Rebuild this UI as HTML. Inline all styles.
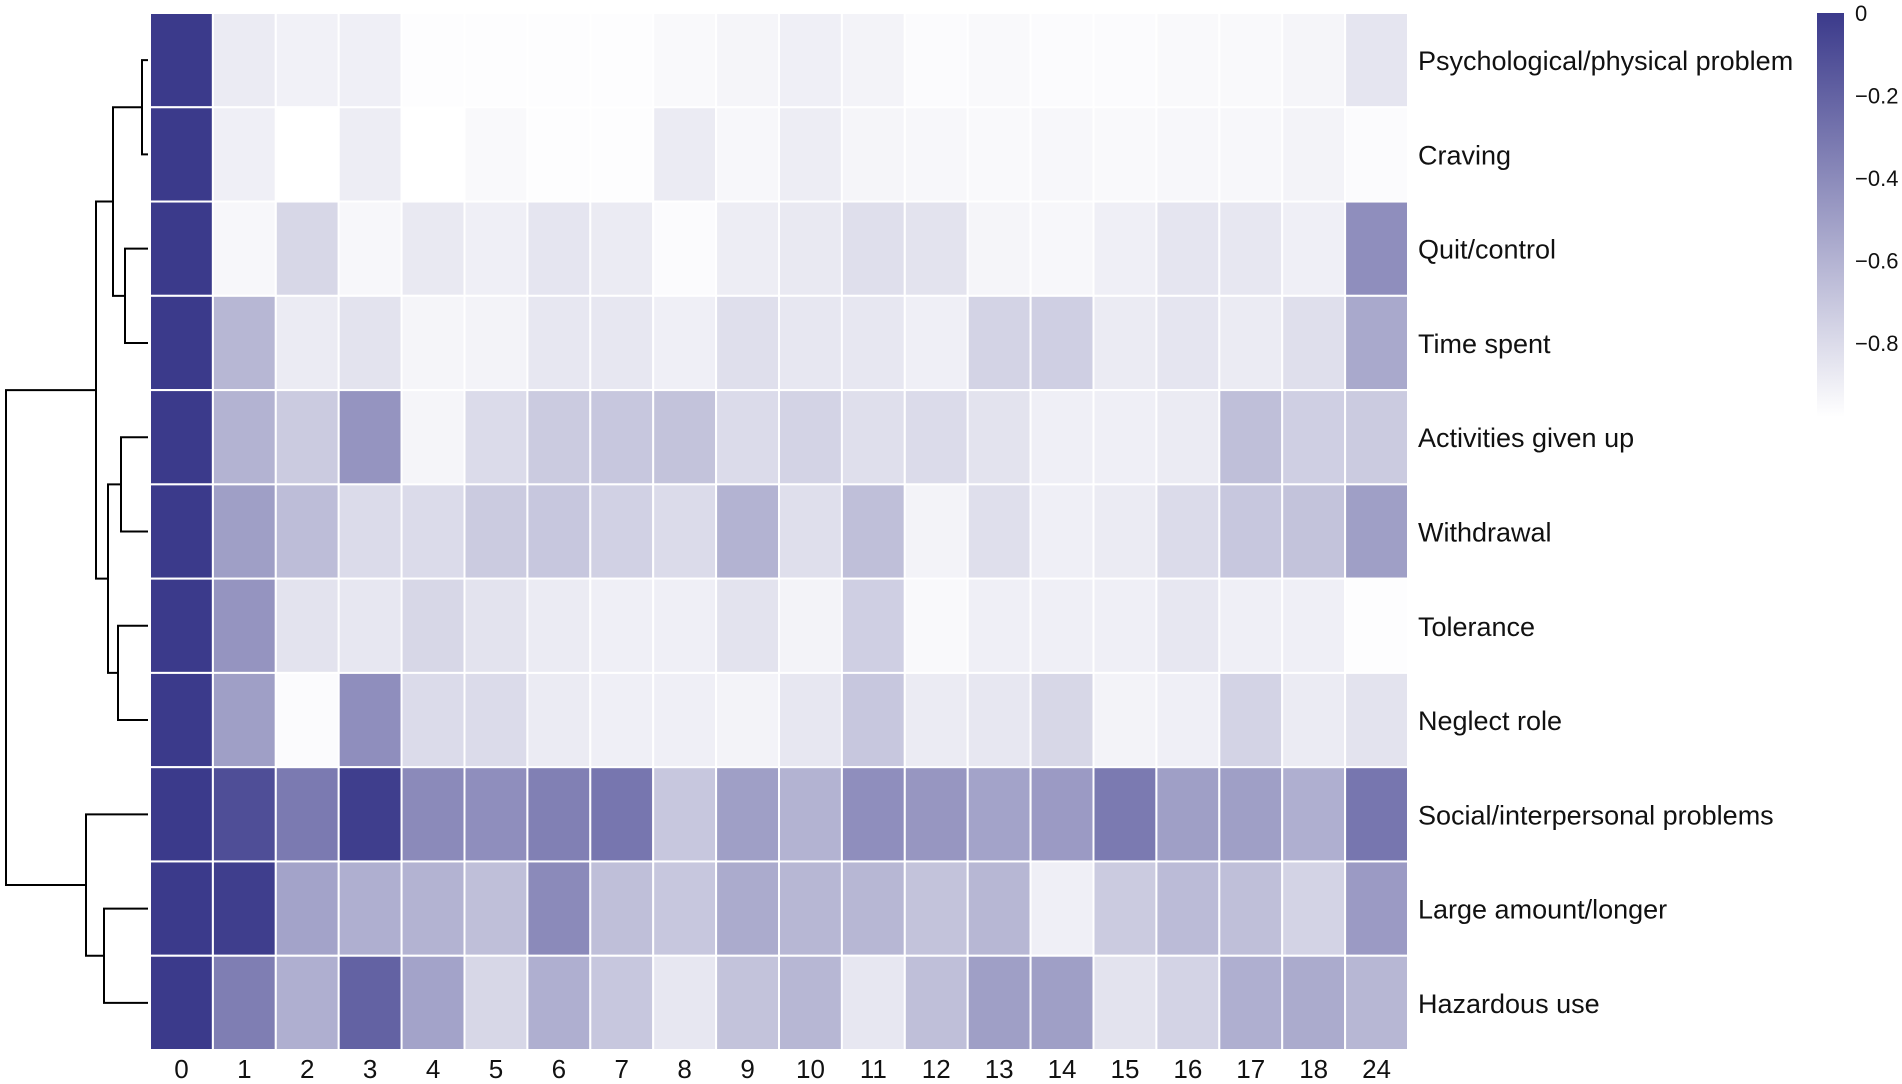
<!DOCTYPE html>
<html><head><meta charset="utf-8"><style>
html,body{margin:0;padding:0;background:#fff;width:1902px;height:1084px;overflow:hidden}
svg{display:block;font-family:"Liberation Sans",Arial,sans-serif}
</style></head><body>
<svg id="chart" width="1902" height="1084" viewBox="0 0 1902 1084" xmlns="http://www.w3.org/2000/svg">
<defs><linearGradient id="cbg" x1="0" y1="0" x2="0" y2="1"><stop offset="0" stop-color="#3b3a8b"/><stop offset="1" stop-color="#ffffff"/></linearGradient></defs>
<g id="cells"></g>
<g id="dendro"></g>
<g id="ylabels"></g>
<g id="xlabels"></g>
<g id="cbar"></g>
</svg>
<script>
const colLabels=["0","1","2","3","4","5","6","7","8","9","10","11","12","13","14","15","16","17","18","24"];
const rowLabels=["Psychological/physical problem","Craving","Quit/control","Time spent","Activities given up","Withdrawal","Tolerance","Neglect role","Social/interpersonal problems","Large amount/longer","Hazardous use"];
const rowPsych=[0,-0.88,-0.91,-0.9,-0.97,-0.97,-0.97,-0.97,-0.95,-0.93,-0.9,-0.92,-0.96,-0.95,-0.96,-0.96,-0.95,-0.95,-0.93,-0.85];
const rowCraving=[0,-0.9,-0.99,-0.89,-0.99,-0.95,-0.97,-0.97,-0.88,-0.94,-0.89,-0.93,-0.94,-0.95,-0.94,-0.95,-0.94,-0.94,-0.92,-0.96];
const rowQuit=[0,-0.94,-0.78,-0.94,-0.87,-0.9,-0.85,-0.88,-0.96,-0.89,-0.87,-0.82,-0.84,-0.93,-0.94,-0.9,-0.85,-0.86,-0.9,-0.42];
const rowTime=[0,-0.62,-0.88,-0.84,-0.93,-0.92,-0.86,-0.86,-0.9,-0.82,-0.86,-0.86,-0.9,-0.76,-0.74,-0.88,-0.85,-0.88,-0.82,-0.55];
const rowActivities=[0,-0.6,-0.72,-0.45,-0.93,-0.8,-0.72,-0.7,-0.68,-0.8,-0.76,-0.82,-0.8,-0.84,-0.9,-0.9,-0.88,-0.66,-0.74,-0.72];
const rowWithdrawal=[0,-0.5,-0.65,-0.8,-0.8,-0.72,-0.7,-0.75,-0.8,-0.6,-0.82,-0.66,-0.92,-0.82,-0.9,-0.88,-0.8,-0.7,-0.68,-0.5];
const rowTolerance=[0,-0.45,-0.84,-0.86,-0.78,-0.84,-0.88,-0.9,-0.9,-0.84,-0.92,-0.74,-0.95,-0.9,-0.9,-0.9,-0.86,-0.9,-0.9,-0.97];
const rowNeglect=[0,-0.5,-0.96,-0.42,-0.8,-0.8,-0.88,-0.9,-0.9,-0.92,-0.86,-0.7,-0.88,-0.86,-0.78,-0.92,-0.9,-0.76,-0.88,-0.84];
const rowSocial=[0,-0.1,-0.32,-0.02,-0.4,-0.42,-0.35,-0.3,-0.7,-0.5,-0.6,-0.42,-0.46,-0.52,-0.48,-0.32,-0.5,-0.5,-0.58,-0.3];
const rowLarge=[0,-0.02,-0.52,-0.58,-0.6,-0.66,-0.4,-0.66,-0.7,-0.56,-0.62,-0.62,-0.68,-0.62,-0.9,-0.72,-0.64,-0.66,-0.76,-0.48];
const rowHazardous=[0,-0.34,-0.58,-0.2,-0.52,-0.78,-0.58,-0.7,-0.86,-0.68,-0.62,-0.86,-0.66,-0.5,-0.5,-0.84,-0.76,-0.58,-0.56,-0.62];
const cbTicks=[0,-0.2,-0.4,-0.6,-0.8];
const cbTickLabels=["0","\u22120.2","\u22120.4","\u22120.6","\u22120.8"];
const merges=[[0,1,6],[2,3,23],[4,5,27],[6,7,30],[9,10,44],[11,12,35],[13,14,40],[16,17,52],[8,15,62],[18,19,142]];

const matrix=[rowPsych,rowCraving,rowQuit,rowTime,rowActivities,rowWithdrawal,rowTolerance,rowNeglect,rowSocial,rowLarge,rowHazardous];
const NS="http://www.w3.org/2000/svg";
const X0=150,X1=1408,Y0=13,Y1=1050;
const cw=(X1-X0)/colLabels.length, rh=(Y1-Y0)/rowLabels.length;
const xCell=i=>X0+i*cw, yCell=j=>Y0+j*rh;
const VMIN=-0.98;
function color(v){let t=Math.min(1,Math.max(0,v/VMIN));
 const a=[59,58,139],b=[255,255,255];
 return "rgb("+a.map((c,k)=>Math.round(c+(b[k]-c)*t)).join(",")+")";}
function mk(tag,attrs,parent){const e=document.createElementNS(NS,tag);for(const k in attrs)e.setAttribute(k,attrs[k]);parent.appendChild(e);return e;}
const cells=document.getElementById('cells');
matrix.forEach((row,j)=>row.forEach((v,i)=>{
 const r=mk('rect',{x:xCell(i),y:yCell(j),width:cw,height:rh,fill:color(v),stroke:'#fff','stroke-width':2},cells);
 
 
}));
const yl=document.getElementById('ylabels');
rowLabels.forEach((l,j)=>{const t=mk('text',{x:1418,y:yCell(j)+rh/2+10,'font-size':27,fill:'#111'},yl);t.textContent=l;
 
 });
const xl=document.getElementById('xlabels');
colLabels.forEach((l,i)=>{const t=mk('text',{x:xCell(i)+cw/2,y:1078,'font-size':26,'text-anchor':'middle',fill:'#111'},xl);t.textContent=l;
 
 });
const dd=document.getElementById('dendro');
const LX=148, dx=d=>LX-d;
const nodes=rowLabels.map((_,j)=>({y:yCell(j)+rh/2,x:LX}));
merges.forEach(([a,b,d])=>{const A=nodes[a],B=nodes[b],x=dx(d);
 const p=mk('path',{d:`M${A.x},${A.y}H${x}V${B.y}H${B.x}`,fill:'none',stroke:'#000','stroke-width':2},dd);
 
 
 nodes.push({x:x,y:(A.y+B.y)/2});});
const cb=document.getElementById('cbar');
const CBT=13,CBB=417,cbY=v=>CBT+(v/VMIN)*(CBB-CBT);
const bar=mk('rect',{x:1817,y:CBT,width:27,height:CBB-CBT,fill:'url(#cbg)'},cb);


cbTicks.forEach((v,k)=>{const t=mk('text',{x:1855,y:cbY(v)+8,'font-size':22,fill:'#111'},cb);t.textContent=cbTickLabels[k];
 
 });
</script>
</body></html>
